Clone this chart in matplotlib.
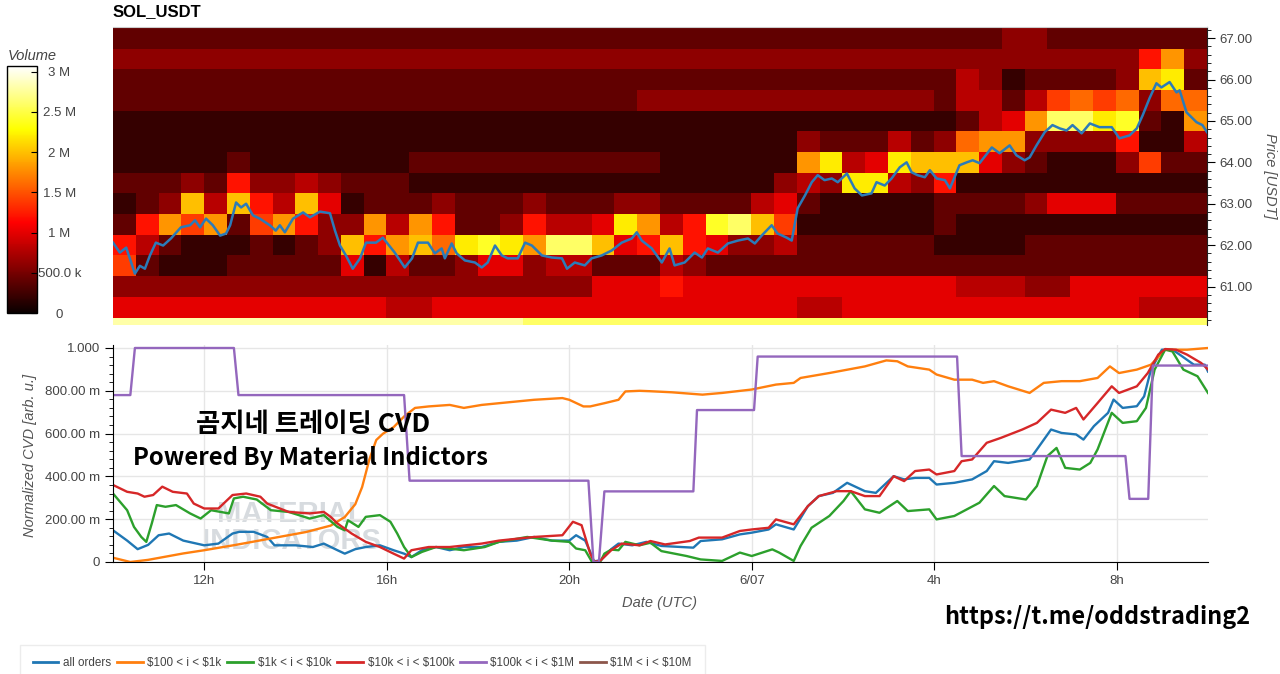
import numpy as np
import matplotlib.pyplot as plt
from matplotlib.ticker import FixedLocator, MultipleLocator, FormatStrFormatter

plt.rcParams['font.family'] = ['Liberation Sans', 'DejaVu Sans']

# order book volume per 0.5 USDT price bin (top bin first), one hex digit per 30 min,
# digit * 200k = volume
price_levels = [67.0, 66.5, 66.0, 65.5, 65.0, 64.5, 64.0, 63.5, 63.0, 62.5, 62.0, 61.5, 61.0, 60.5, 60.0]
vol_rows = [
    '222222222222' '222222222222' '222222222222' '222332222222',
    '333333333333' '333333333333' '333333333333' '333333333693',
    '222222222222' '222222222222' '222222222222' '243122223ab2',
    '222222222222' '222222222223' '333333333333' '244247878388',
    '111111111111' '111111111111' '111111111111' '12459ddbc219',
    '111111111111' '111111111111' '111111322242' '389933336114',
    '111112111111' '122222222222' '1111119b45ba' 'aa5321113722',
    '222326334322' '211111111111' '11111343bb43' '611111111111',
    '123a4a64a512' '223222322233' '222245211111' '222235552222',
    '269792796339' '4962236445b9' '46cda7111111' '211111111111',
    '6421112123a6' '9a8bcb9dda56' 'a65334222222' '111122222222',
    '721112222251' '422355344222' '432222222222' '222222222222',
    '333333333333' '333333333555' '655555555555' '544433555555',
    '555555555555' '445555555555' '555555445555' '555555555444',
    'eeeeeeeeeeee' 'eeeeeedddddd' 'dddddddddddd' 'dddddddddddd',
]

# time in hours from 6/06 00:00 UTC
price_t = [10.00, 10.15, 10.29, 10.48, 10.59, 10.70, 10.81, 10.94, 11.10, 11.27, 11.49, 11.69, 11.80, 11.91,
           12.04, 12.19, 12.35, 12.48, 12.57, 12.70, 12.81, 12.92, 13.07, 13.22, 13.44, 13.57, 13.66, 13.77,
           13.95, 14.17, 14.32, 14.54, 14.76, 14.87, 14.98, 15.11, 15.26, 15.42, 15.55, 15.77, 15.92, 16.18,
           16.40, 16.56, 16.69, 16.91, 17.06, 17.21, 17.28, 17.43, 17.54, 17.72, 17.94, 18.09, 18.22, 18.38,
           18.53, 18.66, 18.88, 19.04, 19.19, 19.41, 19.63, 19.85, 19.96, 20.13, 20.35, 20.50, 20.72, 20.94,
           21.16, 21.38, 21.49, 21.60, 21.82, 22.04, 22.21, 22.32, 22.54, 22.76, 22.92, 23.05, 23.27, 23.49,
           23.71, 23.93, 24.08, 24.23, 24.45, 24.58, 24.78, 24.89, 25.02, 25.18, 25.33, 25.46, 25.61, 25.77,
           25.90, 26.10, 26.27, 26.43, 26.64, 26.75, 26.93, 27.08, 27.26, 27.41, 27.52, 27.65, 27.81, 27.92,
           28.07, 28.25, 28.36, 28.57, 28.73, 28.86, 29.01, 29.28, 29.45, 29.67, 29.82, 30.00, 30.11, 30.26,
           30.44, 30.61, 30.77, 30.92, 31.05, 31.25, 31.43, 31.64, 31.91, 32.08, 32.30, 32.46, 32.59, 32.74,
           32.89, 33.00, 33.18, 33.33, 33.40, 33.55, 33.77, 33.90, 34.00]
price_v = [62.06, 61.82, 61.94, 61.31, 61.50, 61.43, 61.75, 62.06, 61.99, 62.16, 62.43, 62.48, 62.60, 62.43,
           62.64, 62.48, 62.23, 62.28, 62.48, 63.03, 62.91, 63.00, 62.72, 62.64, 62.48, 62.35, 62.48, 62.31,
           62.64, 62.79, 62.67, 62.81, 62.77, 62.35, 61.99, 61.75, 61.43, 61.68, 62.06, 62.06, 62.18, 61.82,
           61.46, 61.68, 62.06, 62.06, 61.80, 61.92, 61.68, 62.04, 61.80, 61.63, 61.58, 61.46, 61.58, 61.99,
           61.75, 61.68, 61.68, 62.06, 61.99, 61.75, 61.70, 61.68, 61.43, 61.58, 61.51, 61.68, 61.75, 61.87,
           62.06, 62.16, 62.31, 62.11, 61.92, 61.58, 61.92, 61.51, 61.58, 61.82, 61.70, 61.92, 61.82, 62.04,
           62.11, 62.16, 62.04, 62.23, 62.48, 62.28, 62.18, 62.11, 62.89, 63.20, 63.52, 63.69, 63.57, 63.61,
           63.52, 63.73, 63.37, 63.20, 63.25, 63.52, 63.44, 63.61, 63.88, 64.00, 63.76, 63.69, 63.64, 63.81,
           63.61, 63.57, 63.37, 63.93, 64.00, 64.05, 63.98, 64.36, 64.22, 64.41, 64.17, 64.05, 64.12, 64.41,
           64.73, 64.90, 64.82, 64.77, 64.90, 64.70, 64.94, 64.85, 64.85, 64.58, 64.65, 64.82, 65.14, 65.55,
           65.91, 65.81, 65.94, 65.69, 65.74, 65.21, 64.97, 64.90, 64.73]

# normalized CVD per order size
all_t = [10.0, 10.31, 10.54, 10.77, 11.0, 11.23, 11.54, 12.0, 12.31, 12.62, 12.77, 13.08, 13.38, 13.54, 14.0,
         14.38, 14.62, 14.92, 15.08, 15.31, 15.54, 15.85, 16.15, 16.38, 16.54, 16.77, 17.08, 17.38, 17.69, 18.08,
         18.46, 18.85, 19.23, 19.62, 20.0, 20.15, 20.35, 20.46, 20.54, 20.69, 20.92, 21.08, 21.38, 21.69, 22.02,
         22.72, 22.88, 23.35, 23.74, 24.0, 24.37, 24.53, 24.92, 25.23, 25.47, 25.78, 26.09, 26.48, 26.72, 27.11,
         27.34, 27.58, 27.89, 28.05, 28.44, 28.83, 29.15, 29.31, 29.62, 30.09, 30.25, 30.56, 30.79, 31.11, 31.27,
         31.5, 31.81, 31.93, 32.13, 32.44, 32.6, 32.75, 32.99, 33.22, 33.38, 33.69, 33.93, 34.0]
all_v = [0.148, 0.10, 0.06, 0.08, 0.125, 0.133, 0.10, 0.078, 0.086, 0.133, 0.141, 0.141, 0.117, 0.078, 0.078,
         0.07, 0.086, 0.055, 0.039, 0.06, 0.07, 0.078, 0.055, 0.039, 0.023, 0.055, 0.07, 0.055, 0.07, 0.07,
         0.094, 0.10, 0.117, 0.10, 0.10, 0.125, 0.10, 0.047, 0.003, 0.008, 0.06, 0.086, 0.078, 0.094, 0.075,
         0.067, 0.098, 0.106, 0.129, 0.137, 0.152, 0.176, 0.152, 0.261, 0.308, 0.323, 0.37, 0.331, 0.323, 0.401,
         0.386, 0.393, 0.393, 0.362, 0.37, 0.386, 0.425, 0.471, 0.463, 0.479, 0.526, 0.619, 0.603, 0.596, 0.572,
         0.635, 0.697, 0.759, 0.72, 0.728, 0.774, 0.899, 0.992, 0.992, 0.969, 0.922, 0.922, 0.89]

s100_t = [10.0, 10.38, 10.77, 11.54, 12.0, 12.69, 13.46, 14.23, 14.77, 15.08, 15.31, 15.46, 15.62, 15.77, 15.92,
          16.15, 16.38, 16.62, 16.92, 17.38, 17.69, 18.08, 18.46, 19.23, 19.85, 20.0, 20.31, 20.46, 20.77, 21.08,
          21.23, 21.54, 21.78, 22.25, 22.92, 23.35, 24.0, 24.53, 24.92, 25.07, 25.7, 26.48, 26.95, 27.19, 27.42,
          27.89, 28.05, 28.44, 28.83, 29.07, 29.31, 29.62, 30.09, 30.4, 30.79, 31.19, 31.58, 31.85, 32.05, 32.44,
          32.75, 33.06, 33.54, 34.0]
s100_v = [0.02, 0.0, 0.01, 0.04, 0.055, 0.08, 0.11, 0.14, 0.17, 0.21, 0.27, 0.35, 0.48, 0.57, 0.60,
          0.63, 0.68, 0.72, 0.727, 0.734, 0.72, 0.734, 0.742, 0.758, 0.766, 0.758, 0.727, 0.727, 0.742, 0.758,
          0.797, 0.80, 0.798, 0.793, 0.782, 0.79, 0.806, 0.829, 0.837, 0.86, 0.883, 0.914, 0.942, 0.938, 0.914,
          0.899, 0.876, 0.852, 0.852, 0.837, 0.845, 0.821, 0.79, 0.837, 0.845, 0.845, 0.86, 0.914, 0.883, 0.899,
          0.922, 0.992, 0.992, 1.0]

s1k_t = [10.0, 10.31, 10.46, 10.62, 10.73, 10.85, 10.96, 11.15, 11.38, 11.69, 11.92, 12.15, 12.54, 12.65, 12.85,
         13.15, 13.46, 13.85, 14.31, 14.62, 14.92, 15.08, 15.15, 15.38, 15.54, 15.85, 16.08, 16.23, 16.38, 16.54,
         16.77, 17.08, 17.69, 18.15, 18.46, 19.08, 19.62, 20.0, 20.15, 20.35, 20.5, 20.69, 20.77, 20.92, 21.08,
         21.23, 21.54, 21.78, 22.02, 22.57, 22.88, 23.35, 23.74, 24.0, 24.45, 24.6, 24.92, 25.07, 25.31, 25.7,
         26.01, 26.17, 26.48, 26.8, 27.19, 27.42, 27.89, 28.05, 28.44, 28.99, 29.31, 29.54, 30.01, 30.25, 30.48,
         30.68, 30.87, 31.19, 31.42, 31.58, 31.89, 32.13, 32.44, 32.64, 32.83, 33.06, 33.22, 33.46, 33.77, 34.0]
s1k_v = [0.32, 0.242, 0.164, 0.117, 0.094, 0.18, 0.266, 0.258, 0.266, 0.227, 0.203, 0.242, 0.227, 0.297, 0.305,
         0.292, 0.242, 0.234, 0.203, 0.219, 0.164, 0.148, 0.195, 0.164, 0.211, 0.219, 0.188, 0.133, 0.07, 0.023,
         0.047, 0.07, 0.055, 0.07, 0.094, 0.117, 0.10, 0.094, 0.063, 0.055, 0.0, 0.005, 0.039, 0.058, 0.055,
         0.094, 0.078, 0.09, 0.051, 0.028, 0.012, 0.005, 0.044, 0.028, 0.059, 0.044, 0.005, 0.075, 0.16, 0.215,
         0.285, 0.331, 0.246, 0.23, 0.285, 0.238, 0.246, 0.199, 0.215, 0.277, 0.355, 0.308, 0.292, 0.355, 0.495,
         0.533, 0.44, 0.432, 0.463, 0.526, 0.697, 0.65, 0.658, 0.72, 0.899, 0.992, 0.984, 0.899, 0.868, 0.79]

s10k_t = [10.0, 10.31, 10.54, 10.69, 10.88, 11.08, 11.31, 11.62, 11.77, 12.0, 12.31, 12.62, 12.92, 13.23, 13.38,
          13.85, 14.31, 14.62, 14.77, 14.92, 15.23, 15.54, 15.85, 16.15, 16.38, 16.54, 16.92, 17.38, 18.08, 18.46,
          19.23, 19.85, 20.08, 20.27, 20.46, 20.55, 20.69, 20.92, 21.15, 21.54, 21.78, 22.1, 22.64, 22.84, 23.35,
          23.74, 24.0, 24.37, 24.53, 24.92, 25.23, 25.47, 25.86, 26.17, 26.48, 26.8, 27.11, 27.34, 27.58, 27.89,
          28.05, 28.44, 28.6, 28.83, 29.15, 29.46, 29.93, 30.25, 30.56, 30.87, 31.11, 31.27, 31.58, 31.89, 32.05,
          32.44, 32.68, 32.91, 33.06, 33.3, 33.54, 33.85, 34.0]
s10k_v = [0.36, 0.328, 0.32, 0.305, 0.313, 0.352, 0.328, 0.32, 0.273, 0.25, 0.25, 0.313, 0.32, 0.305, 0.273,
          0.234, 0.227, 0.234, 0.211, 0.18, 0.133, 0.094, 0.07, 0.039, 0.016, 0.055, 0.07, 0.07, 0.086, 0.10,
          0.117, 0.125, 0.188, 0.172, 0.039, 0.0, 0.008, 0.055, 0.086, 0.078, 0.098, 0.082, 0.098, 0.114, 0.114,
          0.145, 0.152, 0.16, 0.199, 0.176, 0.261, 0.308, 0.331, 0.331, 0.308, 0.308, 0.401, 0.378, 0.425, 0.432,
          0.409, 0.425, 0.471, 0.479, 0.557, 0.58, 0.619, 0.65, 0.712, 0.697, 0.72, 0.666, 0.743, 0.821, 0.79,
          0.821, 0.883, 0.969, 0.995, 0.992, 0.969, 0.93, 0.90]

s100k_t = [10.0, 10.38, 10.48, 12.65, 12.75, 16.38, 16.5, 20.42, 20.53, 20.65, 20.77, 22.72, 22.8, 24.05, 24.13,
           28.5, 28.6, 32.19, 32.28, 32.69, 32.79, 34.0]
s100k_v = [0.78, 0.78, 1.0, 1.0, 0.78, 0.78, 0.38, 0.38, 0.0, 0.0, 0.33, 0.33, 0.71, 0.71, 0.96,
           0.96, 0.495, 0.495, 0.295, 0.295, 0.918, 0.918]

s1m_t = []
s1m_v = []

series_labels = ['all orders', r'\$100 < i < \$1k', r'\$1k < i < \$10k', r'\$10k < i < \$100k',
                 r'\$100k < i < \$1M', r'\$1M < i < \$10M']
series_colors = ['#1f77b4', '#ff7f0e', '#2ca02c', '#d62728', '#9467bd', '#8c564b']

xtick_pos = [12, 16, 20, 24, 28, 32]
xtick_labels = ['12h', '16h', '20h', '6/07', '4h', '8h']
cvd_ticks = [0, 0.2, 0.4, 0.6, 0.8, 1.0]
cvd_labels = ['0', '200.00 m', '400.00 m', '600.00 m', '800.00 m', '1.000']
cb_ticks = [0, 0.5e6, 1e6, 1.5e6, 2e6, 2.5e6, 3e6]
cb_labels = ['0', '500.0 k', '1 M', '1.5 M', '2 M', '2.5 M', '3 M']

W, H = 1280, 674
fig = plt.figure(figsize=(W / 100, H / 100), dpi=100)
gray = '#444444'

# ---- heatmap
ax1 = fig.add_axes([113 / W, 1 - 325 / H, 1094 / W, 298 / H])
vol = np.array([[int(c, 16) * 0.2e6 for c in row] for row in vol_rows[::-1]])
t_edges = 10 + 0.5 * np.arange(vol.shape[1] + 1)
p_cent = np.array(price_levels[::-1])
p_edges = np.append(p_cent - 0.25, p_cent[-1] + 0.25)
mesh = ax1.pcolormesh(t_edges, p_edges, vol, cmap='hot', vmin=0, vmax=3.07e6, shading='flat')
ax1.plot(price_t, price_v, color='#2b7bb9', lw=1.8)
ax1.set_xlim(10, 34)
ax1.set_ylim(60.07, 67.27)
ax1.set_xticks([])
ax1.yaxis.tick_right()
ax1.yaxis.set_major_locator(MultipleLocator(1))
ax1.yaxis.set_minor_locator(MultipleLocator(0.2))
ax1.yaxis.set_major_formatter(FormatStrFormatter('%.2f'))
ax1.tick_params(axis='y', which='major', length=6, labelsize=9.5, labelcolor=gray, pad=3)
ax1.tick_params(axis='y', which='minor', length=3)
for s in ['left', 'bottom']:
    ax1.spines[s].set_visible(False)
ax1.spines['top'].set_color('#cccccc')
ax1.spines['right'].set_color('#222222')
fig.text(1270 / W, 1 - 176 / H, 'Price [USDT]', rotation=270, ha='center', va='center',
         fontsize=10.5, style='italic', color='#555555')
fig.text(113 / W, 1 - 12 / H, 'SOL_USDT', ha='left', va='center', fontsize=12, fontweight='bold')

# ---- colorbar
cax = fig.add_axes([7 / W, 1 - 313 / H, 30 / W, 247 / H])
cb = fig.colorbar(mesh, cax=cax)
cb.set_ticks(cb_ticks)
cb.set_ticklabels(cb_labels)
cb.outline.set_linewidth(1.0)
cax.tick_params(direction='in', length=4, labelsize=9.5, labelcolor=gray, pad=16)
for lab in cax.get_yticklabels():
    lab.set_horizontalalignment('center')
fig.text(8 / W, 1 - 56 / H, 'Volume', ha='left', va='center', fontsize=10.5, style='italic', color='#444444')

# ---- CVD chart
ax2 = fig.add_axes([113 / W, 1 - 562 / H, 1095 / W, 217 / H])
handles = []
for (tt, vv), lab, col in zip([(all_t, all_v), (s100_t, s100_v), (s1k_t, s1k_v), (s10k_t, s10k_v),
                              (s100k_t, s100k_v), (s1m_t, s1m_v)], series_labels, series_colors):
    h, = ax2.plot(tt, vv, color=col, lw=1.7, label=lab)
    handles.append(h)
ax2.set_xlim(10, 34)
ax2.set_ylim(0, 1.014)
ax2.xaxis.set_major_locator(FixedLocator(xtick_pos))
ax2.set_xticklabels(xtick_labels)
ax2.yaxis.set_major_locator(FixedLocator(cvd_ticks))
ax2.set_yticklabels(cvd_labels)
ax2.yaxis.set_minor_locator(MultipleLocator(0.04))
ax2.tick_params(which='major', length=6, labelsize=9.5, labelcolor=gray)
ax2.tick_params(which='minor', length=3)
ax2.grid(color='#e6e6e6', lw=1)
ax2.set_axisbelow(True)
for s in ['top', 'right']:
    ax2.spines[s].set_visible(False)
ax2.text(0.163, 0.16, 'MATERIAL\nINDICATORS', transform=ax2.transAxes, ha='center', va='center',
         fontsize=21, fontweight='heavy', color='#8e99a4', alpha=0.35, linespacing=0.95, zorder=0)
fig.text(30 / W, 1 - 455 / H, 'Normalized CVD [arb. u.]', rotation=90, ha='center', va='center',
         fontsize=10.5, style='italic', color='#555555')
fig.text(660 / W, 1 - 603 / H, 'Date (UTC)', ha='center', va='center', fontsize=10.5,
         style='italic', color='#555555')

# overlay texts
kr = ['Noto Sans CJK KR', 'DejaVu Sans']
fig.text(313 / W, 1 - 425 / H, '곰지네 트레이딩 CVD', ha='center', va='center', fontsize=19,
         fontweight='bold', family=kr)
fig.text(310 / W, 1 - 458 / H, 'Powered By Material Indictors', ha='center', va='center', fontsize=17.2,
         fontweight='bold', family=kr)
fig.text(1097 / W, 1 - 617 / H, 'https://t.me/oddstrading2', ha='center', va='center', fontsize=16.9,
         fontweight='bold', family=kr)

leg = fig.legend(handles=handles, loc='lower left', bbox_to_anchor=(14 / W, -0.021), ncol=6,
                 fontsize=8.4, frameon=True, fancybox=False, edgecolor='#e8e8e8', handlelength=2.2,
                 handletextpad=0.4, columnspacing=0.5, borderpad=1.1)
for t in leg.get_texts():
    t.set_color(gray)
for l in leg.get_lines():
    l.set_linewidth(2)

fig.savefig('out.png', dpi=100)
